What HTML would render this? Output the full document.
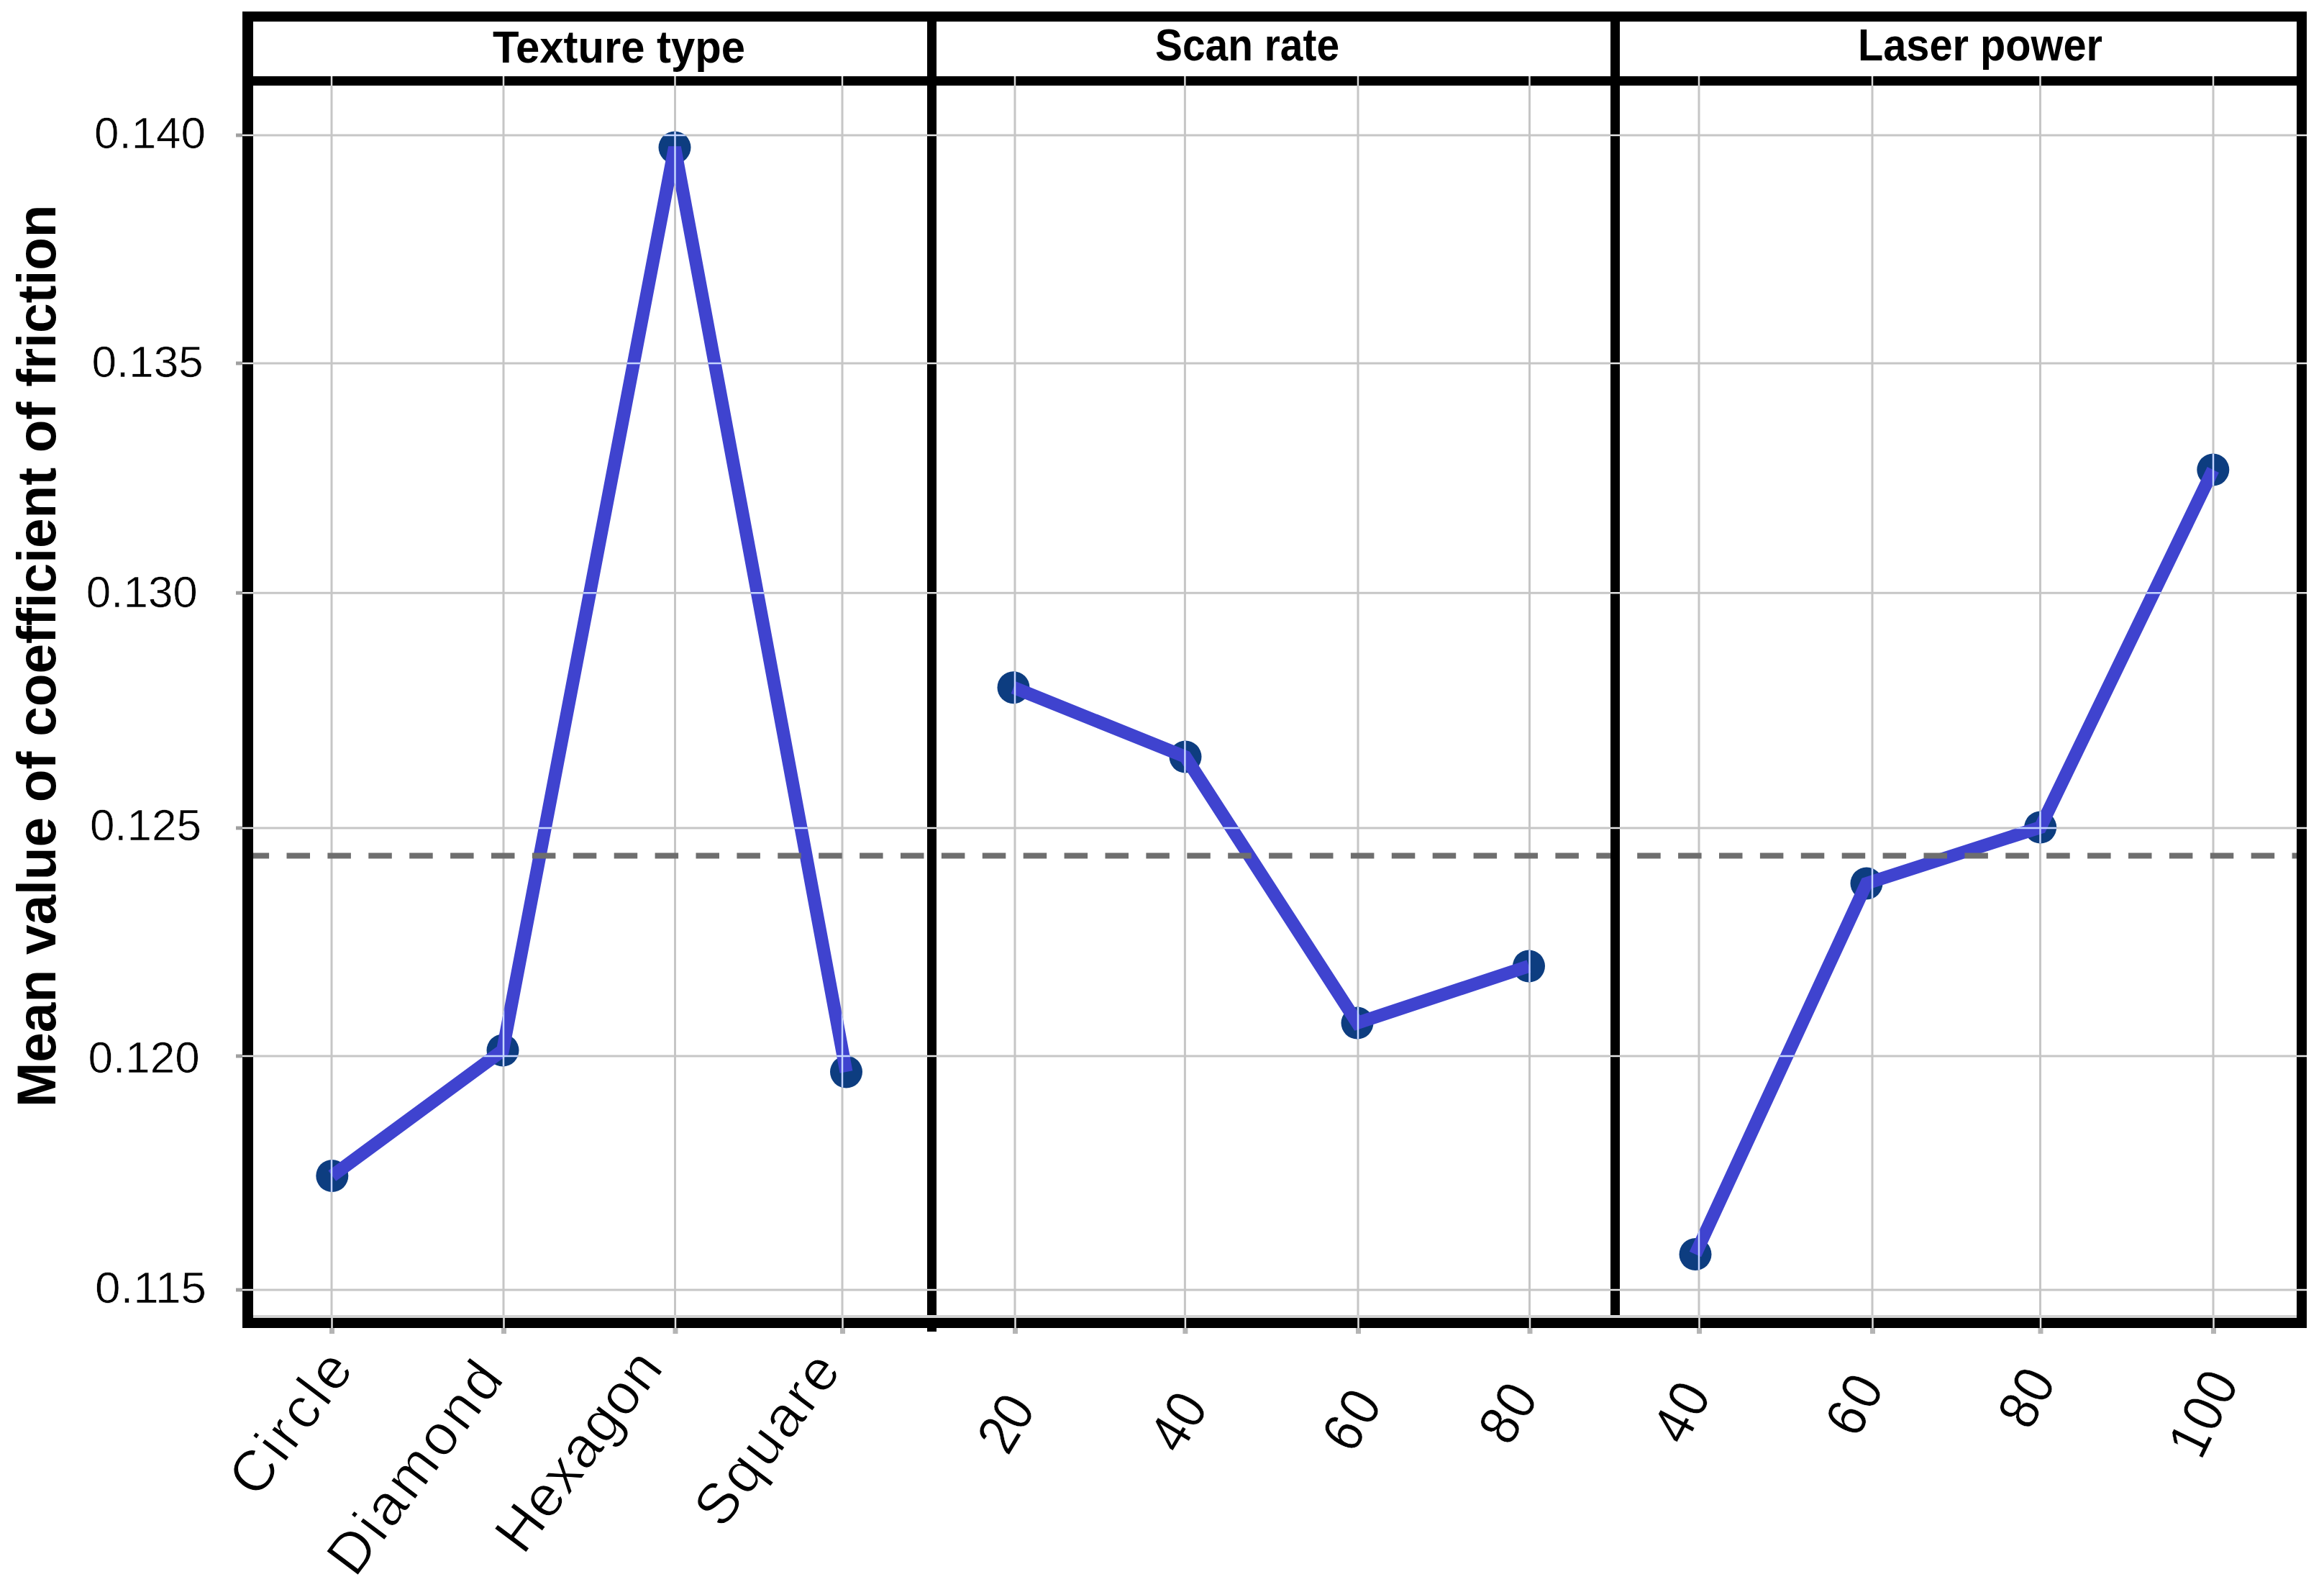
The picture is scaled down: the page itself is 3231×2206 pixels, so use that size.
<!DOCTYPE html>
<html><head><meta charset="utf-8"><style>
html,body{margin:0;padding:0;background:#fff;}
svg{display:block;}
</style></head><body>
<svg width="3231" height="2206" viewBox="0 0 3231 2206">
<rect x="0" y="0" width="3231" height="2206" fill="#fff"/>
<line x1="461" y1="119" x2="461" y2="1832" stroke="#c6c6c6" stroke-width="3"/>
<line x1="700" y1="119" x2="700" y2="1832" stroke="#c6c6c6" stroke-width="3"/>
<line x1="938.5" y1="119" x2="938.5" y2="1832" stroke="#c6c6c6" stroke-width="3"/>
<line x1="1171" y1="119" x2="1171" y2="1832" stroke="#c6c6c6" stroke-width="3"/>
<line x1="1411" y1="119" x2="1411" y2="1832" stroke="#c6c6c6" stroke-width="3"/>
<line x1="1647.4" y1="119" x2="1647.4" y2="1832" stroke="#c6c6c6" stroke-width="3"/>
<line x1="1888" y1="119" x2="1888" y2="1832" stroke="#c6c6c6" stroke-width="3"/>
<line x1="2126.5" y1="119" x2="2126.5" y2="1832" stroke="#c6c6c6" stroke-width="3"/>
<line x1="2362" y1="119" x2="2362" y2="1832" stroke="#c6c6c6" stroke-width="3"/>
<line x1="2603" y1="119" x2="2603" y2="1832" stroke="#c6c6c6" stroke-width="3"/>
<line x1="2836.5" y1="119" x2="2836.5" y2="1832" stroke="#c6c6c6" stroke-width="3"/>
<line x1="3077" y1="119" x2="3077" y2="1832" stroke="#c6c6c6" stroke-width="3"/>
<line x1="352" y1="188" x2="3193" y2="188" stroke="#c6c6c6" stroke-width="3"/>
<line x1="352" y1="505" x2="3193" y2="505" stroke="#c6c6c6" stroke-width="3"/>
<line x1="352" y1="824.2" x2="3193" y2="824.2" stroke="#c6c6c6" stroke-width="3"/>
<line x1="352" y1="1151" x2="3193" y2="1151" stroke="#c6c6c6" stroke-width="3"/>
<line x1="352" y1="1468" x2="3193" y2="1468" stroke="#c6c6c6" stroke-width="3"/>
<line x1="352" y1="1793" x2="3193" y2="1793" stroke="#c6c6c6" stroke-width="3"/>
<line x1="328" y1="188" x2="338" y2="188" stroke="#a0a0a0" stroke-width="5"/>
<line x1="328" y1="505" x2="338" y2="505" stroke="#a0a0a0" stroke-width="5"/>
<line x1="328" y1="824.2" x2="338" y2="824.2" stroke="#a0a0a0" stroke-width="5"/>
<line x1="328" y1="1151" x2="338" y2="1151" stroke="#a0a0a0" stroke-width="5"/>
<line x1="328" y1="1468" x2="338" y2="1468" stroke="#a0a0a0" stroke-width="5"/>
<line x1="328" y1="1793" x2="338" y2="1793" stroke="#a0a0a0" stroke-width="5"/>
<line x1="461.5" y1="1846" x2="461.5" y2="1854" stroke="#b4b4b4" stroke-width="7"/>
<line x1="700.5" y1="1846" x2="700.5" y2="1854" stroke="#b4b4b4" stroke-width="7"/>
<line x1="939.0" y1="1846" x2="939.0" y2="1854" stroke="#b4b4b4" stroke-width="7"/>
<line x1="1171.5" y1="1846" x2="1171.5" y2="1854" stroke="#b4b4b4" stroke-width="7"/>
<line x1="1411.5" y1="1846" x2="1411.5" y2="1854" stroke="#b4b4b4" stroke-width="7"/>
<line x1="1647.9" y1="1846" x2="1647.9" y2="1854" stroke="#b4b4b4" stroke-width="7"/>
<line x1="1888.5" y1="1846" x2="1888.5" y2="1854" stroke="#b4b4b4" stroke-width="7"/>
<line x1="2127.0" y1="1846" x2="2127.0" y2="1854" stroke="#b4b4b4" stroke-width="7"/>
<line x1="2362.5" y1="1846" x2="2362.5" y2="1854" stroke="#b4b4b4" stroke-width="7"/>
<line x1="2603.5" y1="1846" x2="2603.5" y2="1854" stroke="#b4b4b4" stroke-width="7"/>
<line x1="2837.0" y1="1846" x2="2837.0" y2="1854" stroke="#b4b4b4" stroke-width="7"/>
<line x1="3077.5" y1="1846" x2="3077.5" y2="1854" stroke="#b4b4b4" stroke-width="7"/>
<circle cx="461.8" cy="1634.5" r="22.5" fill="#0d3d80"/>
<circle cx="699" cy="1460" r="22.5" fill="#0d3d80"/>
<circle cx="938" cy="205" r="22.5" fill="#0d3d80"/>
<circle cx="1176.5" cy="1490" r="22.5" fill="#0d3d80"/>
<path d="M461.8,1634.5 L699,1460 L938,205 L1176.5,1490" fill="none" stroke="#3f43cf" stroke-width="18" stroke-linejoin="miter" stroke-miterlimit="3" stroke-linecap="butt"/>
<circle cx="1409" cy="955.7" r="22.5" fill="#0d3d80"/>
<circle cx="1648" cy="1052" r="22.5" fill="#0d3d80"/>
<circle cx="1887" cy="1422" r="22.5" fill="#0d3d80"/>
<circle cx="2125.5" cy="1343" r="22.5" fill="#0d3d80"/>
<path d="M1409,955.7 L1648,1052 L1887,1422 L2125.5,1343" fill="none" stroke="#3f43cf" stroke-width="18" stroke-linejoin="miter" stroke-miterlimit="3" stroke-linecap="butt"/>
<circle cx="2357" cy="1743.5" r="22.5" fill="#0d3d80"/>
<circle cx="2595" cy="1228" r="22.5" fill="#0d3d80"/>
<circle cx="2836.7" cy="1150" r="22.5" fill="#0d3d80"/>
<circle cx="3076.8" cy="653" r="22.5" fill="#0d3d80"/>
<path d="M2357,1743.5 L2595,1228 L2836.7,1150 L3076.8,653" fill="none" stroke="#3f43cf" stroke-width="18" stroke-linejoin="miter" stroke-miterlimit="3" stroke-linecap="butt"/>
<mask id="dm" maskUnits="userSpaceOnUse" x="0" y="0" width="3231" height="2206"><circle cx="461.8" cy="1634.5" r="22.5" fill="#fff"/><circle cx="699" cy="1460" r="22.5" fill="#fff"/><circle cx="938" cy="205" r="22.5" fill="#fff"/><circle cx="1176.5" cy="1490" r="22.5" fill="#fff"/><path d="M461.8,1634.5 L699,1460 L938,205 L1176.5,1490" fill="none" stroke="#fff" stroke-width="18" stroke-linejoin="miter" stroke-miterlimit="3" stroke-linecap="butt"/><circle cx="1409" cy="955.7" r="22.5" fill="#fff"/><circle cx="1648" cy="1052" r="22.5" fill="#fff"/><circle cx="1887" cy="1422" r="22.5" fill="#fff"/><circle cx="2125.5" cy="1343" r="22.5" fill="#fff"/><path d="M1409,955.7 L1648,1052 L1887,1422 L2125.5,1343" fill="none" stroke="#fff" stroke-width="18" stroke-linejoin="miter" stroke-miterlimit="3" stroke-linecap="butt"/><circle cx="2357" cy="1743.5" r="22.5" fill="#fff"/><circle cx="2595" cy="1228" r="22.5" fill="#fff"/><circle cx="2836.7" cy="1150" r="22.5" fill="#fff"/><circle cx="3076.8" cy="653" r="22.5" fill="#fff"/><path d="M2357,1743.5 L2595,1228 L2836.7,1150 L3076.8,653" fill="none" stroke="#fff" stroke-width="18" stroke-linejoin="miter" stroke-miterlimit="3" stroke-linecap="butt"/></mask>
<g mask="url(#dm)">
<line x1="461" y1="119" x2="461" y2="1832" stroke="#c4d4ff" stroke-width="2.5"/>
<line x1="700" y1="119" x2="700" y2="1832" stroke="#c4d4ff" stroke-width="2.5"/>
<line x1="938.5" y1="119" x2="938.5" y2="1832" stroke="#c4d4ff" stroke-width="2.5"/>
<line x1="1171" y1="119" x2="1171" y2="1832" stroke="#c4d4ff" stroke-width="2.5"/>
<line x1="1411" y1="119" x2="1411" y2="1832" stroke="#c4d4ff" stroke-width="2.5"/>
<line x1="1647.4" y1="119" x2="1647.4" y2="1832" stroke="#c4d4ff" stroke-width="2.5"/>
<line x1="1888" y1="119" x2="1888" y2="1832" stroke="#c4d4ff" stroke-width="2.5"/>
<line x1="2126.5" y1="119" x2="2126.5" y2="1832" stroke="#c4d4ff" stroke-width="2.5"/>
<line x1="2362" y1="119" x2="2362" y2="1832" stroke="#c4d4ff" stroke-width="2.5"/>
<line x1="2603" y1="119" x2="2603" y2="1832" stroke="#c4d4ff" stroke-width="2.5"/>
<line x1="2836.5" y1="119" x2="2836.5" y2="1832" stroke="#c4d4ff" stroke-width="2.5"/>
<line x1="3077" y1="119" x2="3077" y2="1832" stroke="#c4d4ff" stroke-width="2.5"/>
<line x1="352" y1="188" x2="3193" y2="188" stroke="#c4d4ff" stroke-width="2.5"/>
<line x1="352" y1="505" x2="3193" y2="505" stroke="#c4d4ff" stroke-width="2.5"/>
<line x1="352" y1="824.2" x2="3193" y2="824.2" stroke="#c4d4ff" stroke-width="2.5"/>
<line x1="352" y1="1151" x2="3193" y2="1151" stroke="#c4d4ff" stroke-width="2.5"/>
<line x1="352" y1="1468" x2="3193" y2="1468" stroke="#c4d4ff" stroke-width="2.5"/>
<line x1="352" y1="1793" x2="3193" y2="1793" stroke="#c4d4ff" stroke-width="2.5"/>
</g>
<line x1="343" y1="1189.5" x2="3207" y2="1189.5" stroke="#6e6e6e" stroke-width="8" stroke-dasharray="32.5 24.4" stroke-dashoffset="1.3999999999999986"/>
<rect x="337" y="16" width="15" height="1830" fill="#000"/>
<rect x="3193" y="16" width="14" height="1830" fill="#000"/>
<rect x="337" y="16" width="2870" height="14" fill="#000"/>
<rect x="337" y="1832" width="2870" height="14" fill="#000"/>
<rect x="337" y="106" width="2870" height="13" fill="#000"/>
<rect x="1289" y="16" width="13" height="1835" fill="#000"/>
<rect x="2239" y="16" width="13" height="1830" fill="#000"/>
<rect x="352" y="1828" width="2841" height="4" fill="#d2d2d2"/>
<line x1="461.5" y1="1832" x2="461.5" y2="1846" stroke="#dedede" stroke-width="2.5"/>
<line x1="461" y1="106" x2="461" y2="119" stroke="#d8d8d8" stroke-width="2.5"/>
<line x1="700.5" y1="1832" x2="700.5" y2="1846" stroke="#dedede" stroke-width="2.5"/>
<line x1="700" y1="106" x2="700" y2="119" stroke="#d8d8d8" stroke-width="2.5"/>
<line x1="939.0" y1="1832" x2="939.0" y2="1846" stroke="#dedede" stroke-width="2.5"/>
<line x1="938.5" y1="106" x2="938.5" y2="119" stroke="#d8d8d8" stroke-width="2.5"/>
<line x1="1171.5" y1="1832" x2="1171.5" y2="1846" stroke="#dedede" stroke-width="2.5"/>
<line x1="1171" y1="106" x2="1171" y2="119" stroke="#d8d8d8" stroke-width="2.5"/>
<line x1="1411.5" y1="1832" x2="1411.5" y2="1846" stroke="#dedede" stroke-width="2.5"/>
<line x1="1411" y1="106" x2="1411" y2="119" stroke="#d8d8d8" stroke-width="2.5"/>
<line x1="1647.9" y1="1832" x2="1647.9" y2="1846" stroke="#dedede" stroke-width="2.5"/>
<line x1="1647.4" y1="106" x2="1647.4" y2="119" stroke="#d8d8d8" stroke-width="2.5"/>
<line x1="1888.5" y1="1832" x2="1888.5" y2="1846" stroke="#dedede" stroke-width="2.5"/>
<line x1="1888" y1="106" x2="1888" y2="119" stroke="#d8d8d8" stroke-width="2.5"/>
<line x1="2127.0" y1="1832" x2="2127.0" y2="1846" stroke="#dedede" stroke-width="2.5"/>
<line x1="2126.5" y1="106" x2="2126.5" y2="119" stroke="#d8d8d8" stroke-width="2.5"/>
<line x1="2362.5" y1="1832" x2="2362.5" y2="1846" stroke="#dedede" stroke-width="2.5"/>
<line x1="2362" y1="106" x2="2362" y2="119" stroke="#d8d8d8" stroke-width="2.5"/>
<line x1="2603.5" y1="1832" x2="2603.5" y2="1846" stroke="#dedede" stroke-width="2.5"/>
<line x1="2603" y1="106" x2="2603" y2="119" stroke="#d8d8d8" stroke-width="2.5"/>
<line x1="2837.0" y1="1832" x2="2837.0" y2="1846" stroke="#dedede" stroke-width="2.5"/>
<line x1="2836.5" y1="106" x2="2836.5" y2="119" stroke="#d8d8d8" stroke-width="2.5"/>
<line x1="3077.5" y1="1832" x2="3077.5" y2="1846" stroke="#dedede" stroke-width="2.5"/>
<line x1="3077" y1="106" x2="3077" y2="119" stroke="#d8d8d8" stroke-width="2.5"/>
<line x1="337" y1="188" x2="352" y2="188" stroke="#e4e4e4" stroke-width="2.5"/>
<line x1="1289" y1="188" x2="1302" y2="188" stroke="#e4e4e4" stroke-width="2.5"/>
<line x1="2239" y1="188" x2="2252" y2="188" stroke="#e4e4e4" stroke-width="2.5"/>
<line x1="3193" y1="188" x2="3207" y2="188" stroke="#e4e4e4" stroke-width="2.5"/>
<line x1="337" y1="505" x2="352" y2="505" stroke="#e4e4e4" stroke-width="2.5"/>
<line x1="1289" y1="505" x2="1302" y2="505" stroke="#e4e4e4" stroke-width="2.5"/>
<line x1="2239" y1="505" x2="2252" y2="505" stroke="#e4e4e4" stroke-width="2.5"/>
<line x1="3193" y1="505" x2="3207" y2="505" stroke="#e4e4e4" stroke-width="2.5"/>
<line x1="337" y1="824.2" x2="352" y2="824.2" stroke="#e4e4e4" stroke-width="2.5"/>
<line x1="1289" y1="824.2" x2="1302" y2="824.2" stroke="#e4e4e4" stroke-width="2.5"/>
<line x1="2239" y1="824.2" x2="2252" y2="824.2" stroke="#e4e4e4" stroke-width="2.5"/>
<line x1="3193" y1="824.2" x2="3207" y2="824.2" stroke="#e4e4e4" stroke-width="2.5"/>
<line x1="337" y1="1151" x2="352" y2="1151" stroke="#e4e4e4" stroke-width="2.5"/>
<line x1="1289" y1="1151" x2="1302" y2="1151" stroke="#e4e4e4" stroke-width="2.5"/>
<line x1="2239" y1="1151" x2="2252" y2="1151" stroke="#e4e4e4" stroke-width="2.5"/>
<line x1="3193" y1="1151" x2="3207" y2="1151" stroke="#e4e4e4" stroke-width="2.5"/>
<line x1="337" y1="1468" x2="352" y2="1468" stroke="#e4e4e4" stroke-width="2.5"/>
<line x1="1289" y1="1468" x2="1302" y2="1468" stroke="#e4e4e4" stroke-width="2.5"/>
<line x1="2239" y1="1468" x2="2252" y2="1468" stroke="#e4e4e4" stroke-width="2.5"/>
<line x1="3193" y1="1468" x2="3207" y2="1468" stroke="#e4e4e4" stroke-width="2.5"/>
<line x1="337" y1="1793" x2="352" y2="1793" stroke="#e4e4e4" stroke-width="2.5"/>
<line x1="1289" y1="1793" x2="1302" y2="1793" stroke="#e4e4e4" stroke-width="2.5"/>
<line x1="2239" y1="1793" x2="2252" y2="1793" stroke="#e4e4e4" stroke-width="2.5"/>
<line x1="3193" y1="1793" x2="3207" y2="1793" stroke="#e4e4e4" stroke-width="2.5"/>
<text x="685" y="87" font-family="Liberation Sans, sans-serif" font-weight="bold" font-size="63" textLength="351" lengthAdjust="spacingAndGlyphs">Texture type</text>
<text x="1606" y="84" font-family="Liberation Sans, sans-serif" font-weight="bold" font-size="63" textLength="256" lengthAdjust="spacingAndGlyphs">Scan rate</text>
<text x="2583" y="84" font-family="Liberation Sans, sans-serif" font-weight="bold" font-size="63" textLength="340" lengthAdjust="spacingAndGlyphs">Laser power</text>
<text x="131" y="205.5" font-family="Liberation Sans, sans-serif" font-size="61" textLength="155" lengthAdjust="spacingAndGlyphs" stroke="#fff" stroke-width="0.6">0.140</text>
<text x="127.6" y="524.3" font-family="Liberation Sans, sans-serif" font-size="61" textLength="155" lengthAdjust="spacingAndGlyphs" stroke="#fff" stroke-width="0.6">0.135</text>
<text x="119.8" y="843.8" font-family="Liberation Sans, sans-serif" font-size="61" textLength="155" lengthAdjust="spacingAndGlyphs" stroke="#fff" stroke-width="0.6">0.130</text>
<text x="124.9" y="1168.2" font-family="Liberation Sans, sans-serif" font-size="61" textLength="155" lengthAdjust="spacingAndGlyphs" stroke="#fff" stroke-width="0.6">0.125</text>
<text x="122.6" y="1490.5" font-family="Liberation Sans, sans-serif" font-size="61" textLength="155" lengthAdjust="spacingAndGlyphs" stroke="#fff" stroke-width="0.6">0.120</text>
<text x="132" y="1811.4" font-family="Liberation Sans, sans-serif" font-size="61" textLength="155" lengthAdjust="spacingAndGlyphs" stroke="#fff" stroke-width="0.6">0.115</text>
<text transform="translate(77,1539) rotate(-90)" font-family="Liberation Sans, sans-serif" font-weight="bold" font-size="76" textLength="1254.5" lengthAdjust="spacingAndGlyphs">Mean value of coefficient of friction</text>
<text class="xl" transform="translate(493.60,1903.80) rotate(-53) scale(1,1)" text-anchor="end" font-family="Liberation Sans, sans-serif" font-size="80" textLength="227.00" lengthAdjust="spacing" stroke="#fff" stroke-width="1.2">Circle</text>
<text class="xl" transform="translate(702.50,1917.60) rotate(-53) scale(1,1)" text-anchor="end" font-family="Liberation Sans, sans-serif" font-size="80" textLength="347.00" lengthAdjust="spacing" stroke="#fff" stroke-width="1.2">Diamond</text>
<text class="xl" transform="translate(924.00,1902.50) rotate(-53) scale(1,1)" text-anchor="end" font-family="Liberation Sans, sans-serif" font-size="80" textLength="326.43" lengthAdjust="spacing" stroke="#fff" stroke-width="1.2">Hexagon</text>
<text class="xl" transform="translate(1171.00,1906.00) rotate(-53) scale(1,1)" text-anchor="end" font-family="Liberation Sans, sans-serif" font-size="80" textLength="277.14" lengthAdjust="spacing" stroke="#fff" stroke-width="1.2">Square</text>
<text class="xl" transform="translate(1441.00,1958.90) rotate(-59) scale(0.9,1)" text-anchor="end" font-family="Liberation Sans, sans-serif" font-size="78" textLength="85.89" lengthAdjust="spacing" stroke="#fff" stroke-width="0.5">20</text>
<text class="xl" transform="translate(1681.00,1956.00) rotate(-59) scale(0.9,1)" text-anchor="end" font-family="Liberation Sans, sans-serif" font-size="78" textLength="88.08" lengthAdjust="spacing" stroke="#fff" stroke-width="0.5">40</text>
<text class="xl" transform="translate(1923.00,1952.00) rotate(-59) scale(0.9,1)" text-anchor="end" font-family="Liberation Sans, sans-serif" font-size="78" textLength="91.78" lengthAdjust="spacing" stroke="#fff" stroke-width="0.5">60</text>
<text class="xl" transform="translate(2140.00,1943.00) rotate(-59) scale(0.9,1)" text-anchor="end" font-family="Liberation Sans, sans-serif" font-size="78" textLength="90.16" lengthAdjust="spacing" stroke="#fff" stroke-width="0.5">80</text>
<text class="xl" transform="translate(2380.00,1939.40) rotate(-62) scale(0.9,1)" text-anchor="end" font-family="Liberation Sans, sans-serif" font-size="78" textLength="90.62" lengthAdjust="spacing" stroke="#fff" stroke-width="0.5">40</text>
<text class="xl" transform="translate(2620.50,1928.70) rotate(-62) scale(0.9,1)" text-anchor="end" font-family="Liberation Sans, sans-serif" font-size="78" textLength="91.19" lengthAdjust="spacing" stroke="#fff" stroke-width="0.5">60</text>
<text class="xl" transform="translate(2859.50,1920.00) rotate(-62) scale(0.9,1)" text-anchor="end" font-family="Liberation Sans, sans-serif" font-size="78" textLength="88.62" lengthAdjust="spacing" stroke="#fff" stroke-width="0.5">80</text>
<text class="xl" transform="translate(3113.50,1921.80) rotate(-64) scale(0.9,1)" text-anchor="end" font-family="Liberation Sans, sans-serif" font-size="78" textLength="135.37" lengthAdjust="spacing" stroke="#fff" stroke-width="0.5">100</text>
</svg>
</body></html>
